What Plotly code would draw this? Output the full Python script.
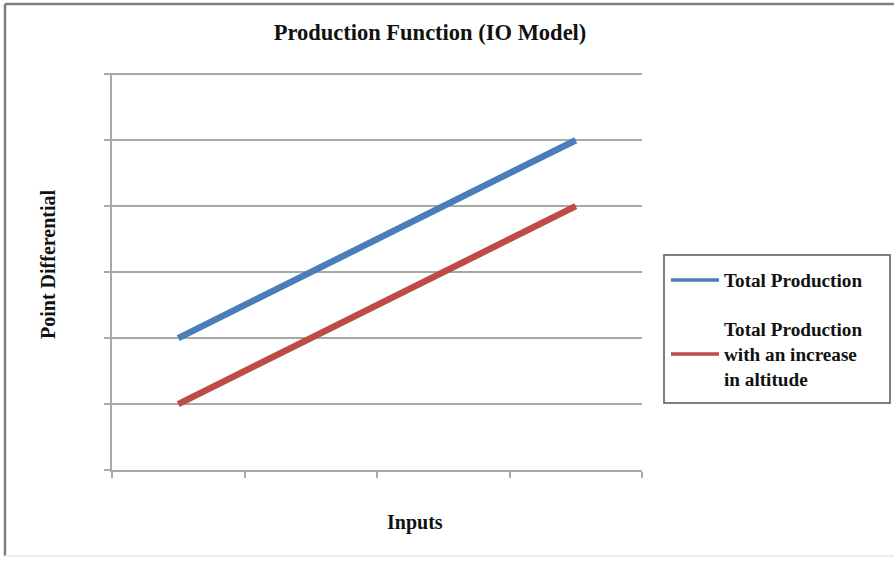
import plotly.graph_objects as go

categories = ["1", "2", "3", "4"]
total_production = [2, 3, 4, 5]
total_production_altitude = [1, 2, 3, 4]
series_names = ["Total Production", "Total Production<br>with an increase<br>in altitude"]
series_colors = ["#4A7EBB", "#BE4B48"]

W, H = 894, 562
L, R, T, B = 112, 642, 73, 470
pw, ph = R - L, B - T

def px(x):
    return (x - L) / pw

def py(y):
    return (B - y) / ph

font_family = "Liberation Serif, Times New Roman, serif"
grid_col = "#A8A8A8"

fig = go.Figure()
for vals, col in [(total_production, series_colors[0]),
                  (total_production_altitude, series_colors[1])]:
    fig.add_trace(go.Scatter(x=categories, y=vals, mode="lines", showlegend=False,
                             line=dict(color=col, width=6.5)))

# legend entries (thinner line samples as in the reference)
fig.add_trace(go.Scatter(x=[None], y=[None], mode="lines", name=series_names[0],
                         line=dict(color=series_colors[0], width=3.5), legend="legend"))
fig.add_trace(go.Scatter(x=[None], y=[None], mode="lines", name=series_names[1],
                         line=dict(color=series_colors[1], width=3.5), legend="legend2"))

leg_common = dict(xanchor="left", yanchor="middle", borderwidth=0, bgcolor="rgba(0,0,0,0)",
                  font=dict(size=19.2, family=font_family, weight="bold", color="#111111"),
                  itemwidth=48)

fig.update_layout(
    width=W, height=H,
    margin=dict(l=L, r=W - R, t=T, b=H - B, pad=0),
    paper_bgcolor="white", plot_bgcolor="white",
    font=dict(family=font_family, color="#111111"),
    title=dict(text="<b>Production Function (IO Model)</b>", x=430 / W,
               xanchor="center", y=1 - 32 / H, yanchor="middle",
               font=dict(size=22.5, family=font_family, color="#111111")),
    legend=dict(x=px(666), y=py(280), **leg_common),
    legend2=dict(x=px(666), y=py(354), **leg_common),
    xaxis=dict(type="category", range=[-0.5, 3.5], showticklabels=False,
               tickson="boundaries", ticks="outside", ticklen=6, tickcolor=grid_col,
               tickwidth=1.5,
               showline=True, linecolor=grid_col, linewidth=1.8,
               showgrid=False, zeroline=False),
    yaxis=dict(range=[0, 6.02], dtick=1, showticklabels=False,
               ticks="outside", ticklen=6, tickcolor=grid_col, tickwidth=1.5,
               showline=True, linecolor=grid_col, linewidth=1.8,
               showgrid=True, gridcolor=grid_col, gridwidth=1.8, zeroline=False),
    annotations=[
        dict(text="<b>Inputs</b>", xref="paper", yref="paper", x=px(415), y=py(522),
             xanchor="center", yanchor="middle", showarrow=False,
             font=dict(size=20, family=font_family, color="#111111")),
        dict(text="<b>Point Differential</b>", xref="paper", yref="paper", x=px(48), y=py(265),
             xanchor="center", yanchor="middle", showarrow=False, textangle=-90,
             font=dict(size=20, family=font_family, color="#111111")),
    ],
)

# legend box
fig.add_shape(type="rect", xref="paper", yref="paper",
              x0=px(664), x1=px(890), y0=py(255), y1=py(403),
              line=dict(color="#555555", width=1.5), fillcolor="rgba(0,0,0,0)")

# outer chart border
fig.add_shape(type="line", xref="paper", yref="paper",
              x0=px(5), x1=px(5), y0=py(4), y1=py(556),
              line=dict(color="#808080", width=2.5))
fig.add_shape(type="line", xref="paper", yref="paper",
              x0=px(5), x1=px(900), y0=py(4), y1=py(4),
              line=dict(color="#808080", width=2.5))
fig.add_shape(type="line", xref="paper", yref="paper",
              x0=px(5), x1=px(900), y0=py(556), y1=py(556),
              line=dict(color="#EEEEEE", width=2))

fig.write_html("out.html", config={"displayModeBar": False},
               post_script="document.body.style.margin='0';document.body.style.overflow='hidden';")
